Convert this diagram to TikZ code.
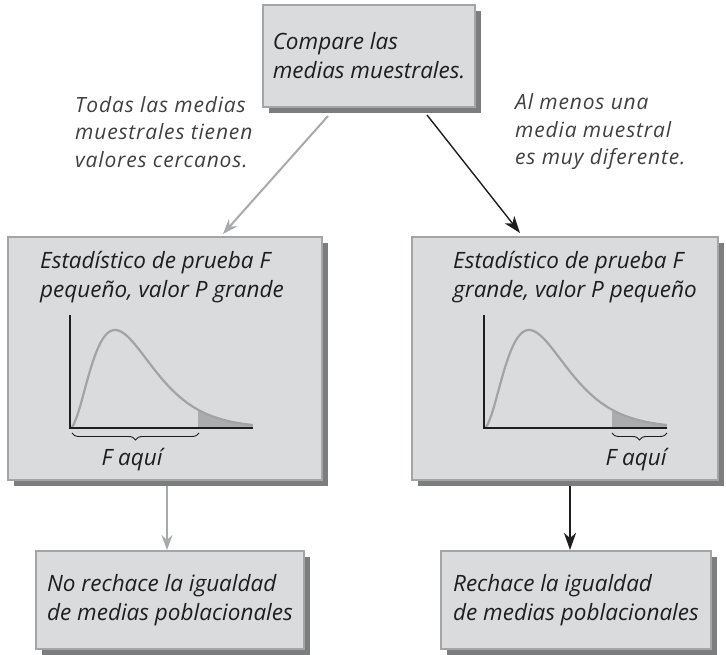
\documentclass[tikz,border=0pt]{standalone}
\usepackage{fontspec}
\setmainfont{Open Sans}
\newfontfamily\fuenterotulo[LetterSpace=4]{Open Sans}
\usetikzlibrary{arrows.meta,shadows,decorations.pathreplacing}
\definecolor{fondocaja}{HTML}{DADBDD}
\definecolor{bordecaja}{HTML}{A4A5A7}
\definecolor{sombra}{HTML}{7C7D7F}
\definecolor{grisflecha}{HTML}{A8A9AB}
\definecolor{griscurva}{HTML}{A2A3A5}
\definecolor{griscola}{HTML}{ABACAE}
\definecolor{tinta}{HTML}{1E1E1E}
\begin{document}
\begin{tikzpicture}[x=1pt,y=1pt,
	caja/.style={fill=fondocaja,draw=bordecaja,line width=2pt,drop shadow={shadow xshift=6pt,shadow yshift=-6pt,fill=sombra,opacity=1},inner sep=0pt,font=\fontsize{22.5}{29}\selectfont\itshape,text=tinta,align=left},
	titulo/.style={font=\fontsize{22.5}{29}\selectfont\itshape,text=tinta,align=left,inner sep=0pt,anchor=west},
	rotulo/.style={font=\fuenterotulo\fontsize{21}{27.5}\selectfont\itshape,text=tinta!85,align=left,inner sep=0pt,anchor=west},
	flechagris/.style={draw=grisflecha,line width=2pt,-{Stealth[length=15pt,width=11pt,inset=5pt]}},
	flechanegra/.style={draw=tinta,line width=1.4pt,-{Stealth[length=17pt,width=12pt,inset=5pt]}}]
	\useasboundingbox (0,0) rectangle (726,655);
	\node[caja,minimum width=212pt,minimum height=102pt] (comparar) at (369,599) {Compare las\\medias muestrales.};
	\node[caja,minimum width=314pt,minimum height=243pt] (pequeno) at (165,296.5) {};
	\node[caja,minimum width=306pt,minimum height=243pt] (grande) at (565,296.5) {};
	\node[caja,minimum width=268pt,minimum height=98pt] (norechazo) at (170,55) {No rechace la igualdad\\de medias poblacionales};
	\node[caja,minimum width=270pt,minimum height=98pt] (rechazo) at (576,55) {Rechace la igualdad\\de medias poblacionales};
	\node[titulo] (tituloizq) at (40,377.5) {Estadístico de prueba F\\pequeño, valor P grande};
	\node[titulo] (tituloder) at (453,377.5) {Estadístico de prueba F\\grande, valor P pequeño};
	\foreach \ox/\ba/\bb in {70/2/129,484/128/183} {
		\begin{scope}[shift={(\ox,227)}]
			\fill[griscola] (128.1,0) -- plot[domain=0.7:1,samples=30] ({183*\x},{98*pow(\x/0.246,2.1)*exp(2.1*(1-\x/0.246))}) -- (183,0) -- cycle;
			\draw[griscurva,line width=2.2pt] plot[domain=0.001:1,samples=100] ({183*\x},{98*pow(\x/0.246,2.1)*exp(2.1*(1-\x/0.246))});
			\draw[tinta,line width=1.2pt] (0,113) -- (0,0) -- (183,0);
			\draw[tinta,line width=0.9pt,decorate,decoration={brace,mirror,amplitude=7pt}] (\ba,-5) -- (\bb,-5);
		\end{scope}
	}
	\node[titulo,anchor=center] (faquiizq) at (132,195) {F aquí};
	\node[titulo,anchor=center] (faquider) at (636,195) {F aquí};
	\node[rotulo] (todas) at (75,523) {Todas las medias\\muestrales tienen\\valores cercanos.};
	\node[rotulo] (almenos) at (515,523) {Al menos una\\media muestral\\es muy diferente.};
	\draw[flechagris] ([xshift=-41pt,yshift=-8pt]comparar.south) -- ([xshift=58pt,yshift=2pt]pequeno.north);
	\draw[flechanegra] ([xshift=58pt,yshift=-7pt]comparar.south) -- ([xshift=-45pt,yshift=3pt]grande.north);
	\coordinate (pieizq) at ([xshift=2pt,yshift=-5pt]pequeno.south);
	\coordinate (pieder) at ([xshift=5pt,yshift=-5pt]grande.south);
	\draw[flechagris] (pieizq) -- (pieizq |- norechazo.north);
	\draw[flechanegra] (pieder) -- (pieder |- rechazo.north);
\end{tikzpicture}
\end{document}
